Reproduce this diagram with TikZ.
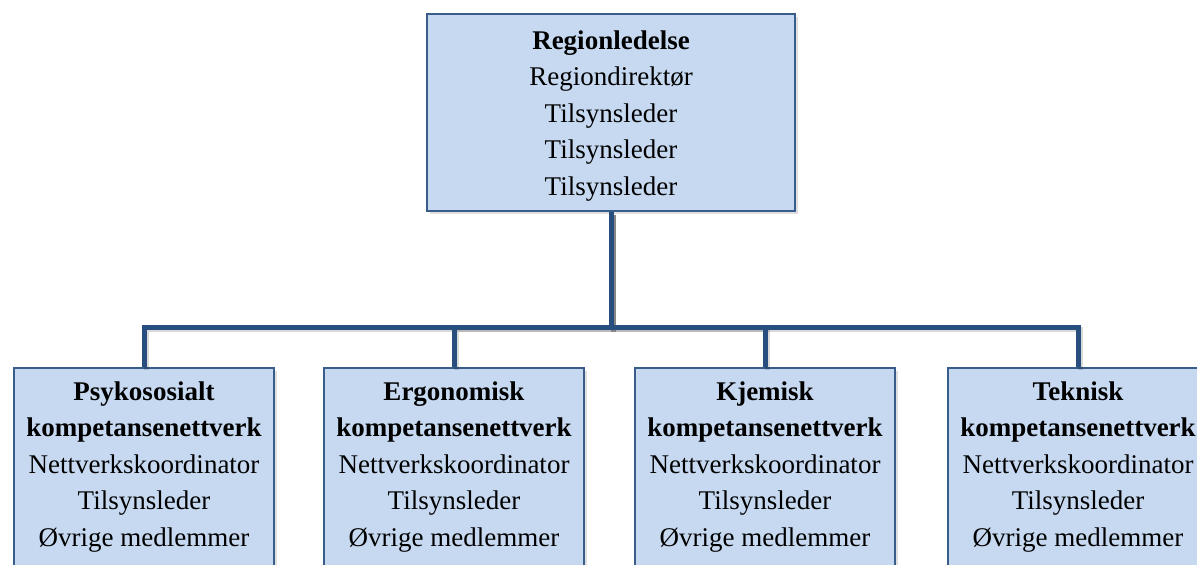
\documentclass[tikz,border=0pt]{standalone}
\usepackage{fontspec}
\setmainfont{Liberation Serif}
\usetikzlibrary{shadows}
\definecolor{boxfill}{HTML}{C6D9F1}
\definecolor{boxline}{HTML}{385D8A}
\definecolor{linkblue}{HTML}{284E80}
\begin{document}
\begin{tikzpicture}[x=1pt,y=-1pt,
  orgbox/.style={rectangle, draw=boxline, line width=2pt, fill=boxfill,
    anchor=north west, inner sep=0pt,
    drop shadow={opacity=0.25, shadow xshift=2.5pt, shadow yshift=-2.5pt}},
  orgtext/.style={anchor=north, align=center, inner sep=0pt,
    font=\fontsize{27}{36.5}\selectfont},
  link/.style={draw=linkblue, line width=5pt},
  linkshadow/.style={draw=black, opacity=0.15, line width=5pt,
    transform canvas={shift={(2.5pt,-2.5pt)}}}]
\useasboundingbox (0,0) rectangle (1197,565);
\begin{scope}
\clip (0,0) rectangle (1197,565);

% boxes
\node[orgbox, minimum width=368pt, minimum height=197pt] (top) at (426,13) {};
\node[orgbox, minimum width=260pt, minimum height=240pt] (psy) at (13,367) {};
\node[orgbox, minimum width=260pt, minimum height=240pt] (erg) at (323,367) {};
\node[orgbox, minimum width=260pt, minimum height=240pt] (kje) at (634,367) {};
\node[orgbox, minimum width=260pt, minimum height=240pt] (tek) at (947,367) {};

% connectors
\foreach \c in {psy,erg,kje,tek}{
  \draw[linkshadow] (top.south) -- ++(0,115) -| (\c.north);
}
\foreach \c in {psy,erg,kje,tek}{
  \draw[link] (top.south) -- ++(0,115) -| (\c.north);
}

% texts
\node[orgtext, yshift=-17.5pt] (toptext) at (top.north)
  {\textbf{Regionledelse}\\Regiondirektør\\Tilsynsleder\\Tilsynsleder\\Tilsynsleder};
\node[orgtext, yshift=-14.5pt] (psytext) at (psy.north)
  {\textbf{Psykososialt}\\\textbf{kompetansenettverk}\\Nettverkskoordinator\\Tilsynsleder\\Øvrige medlemmer};
\node[orgtext, yshift=-14.5pt] (ergtext) at (erg.north)
  {\textbf{Ergonomisk}\\\textbf{kompetansenettverk}\\Nettverkskoordinator\\Tilsynsleder\\Øvrige medlemmer};
\node[orgtext, yshift=-14.5pt] (kjetext) at (kje.north)
  {\textbf{Kjemisk}\\\textbf{kompetansenettverk}\\Nettverkskoordinator\\Tilsynsleder\\Øvrige medlemmer};
\node[orgtext, yshift=-14.5pt] (tektext) at (tek.north)
  {\textbf{Teknisk}\\\textbf{kompetansenettverk}\\Nettverkskoordinator\\Tilsynsleder\\Øvrige medlemmer};
\end{scope}
\end{tikzpicture}
\end{document}
